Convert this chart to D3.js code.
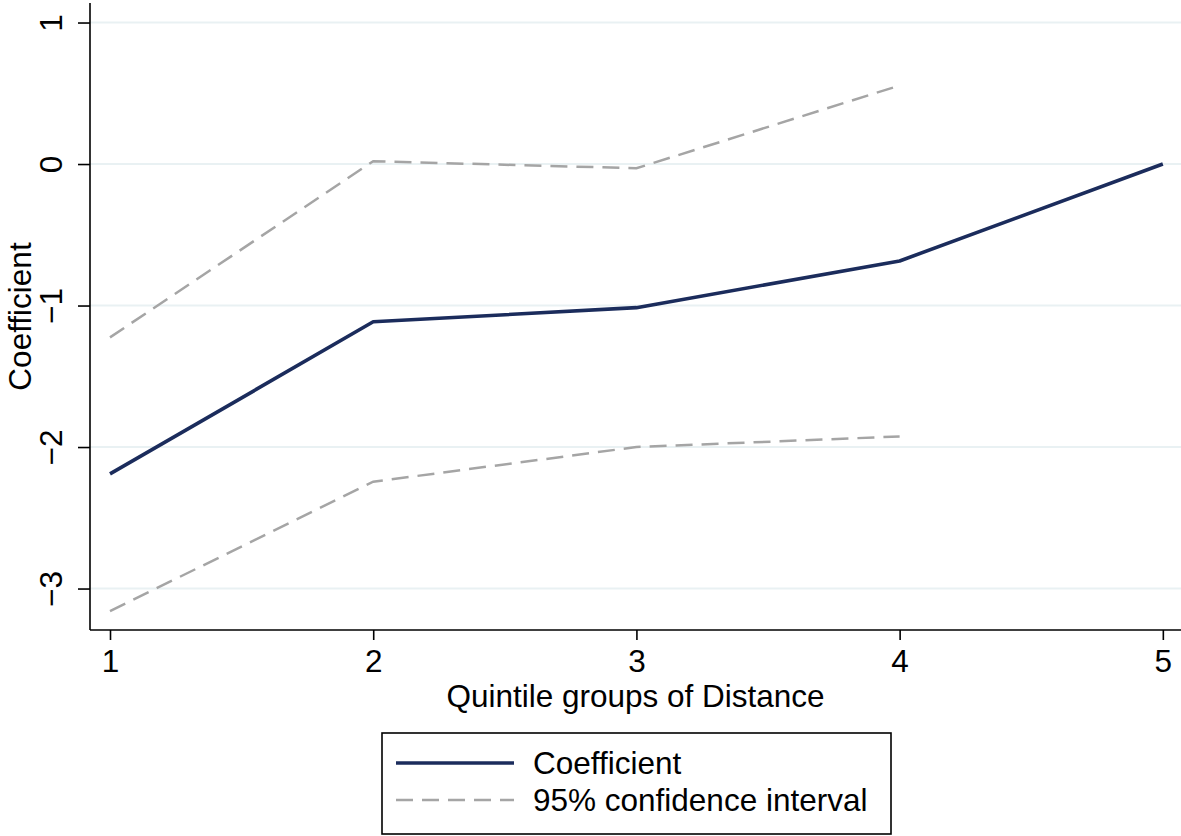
<!DOCTYPE html>
<html>
<head>
<meta charset="utf-8">
<script src="https://cdn.jsdelivr.net/npm/d3@7"></script>
<style>
  html, body { margin: 0; padding: 0; background: #fff; }
  svg { display: block; }
  text { font-family: "Liberation Sans", Arial, sans-serif; fill: #000; }
</style>
</head>
<body>
<svg id="chart" width="1181" height="836"></svg>
<script>
// ---- data ----
const quintiles = [1, 2, 3, 4, 5];
const coefficient = [-2.19, -1.115, -1.015, -0.685, 0];
const ciUpper = [-1.225, 0.02, -0.03, 0.555];
const ciLower = [-3.16, -2.245, -2.0, -1.925];
const xTicks = [1, 2, 3, 4, 5];
const yTicks = [1, 0, -1, -2, -3];
const xTitle = "Quintile groups of Distance";
const yTitle = "Coefficient";
const legendLabels = ["Coefficient", "95% confidence interval"];

// ---- layout ----
const svg = d3.select("#chart");
const plotLeft = 90, plotRight = 1181, plotTop = 3, plotBottom = 630;
const fontSize = 31.5;
const navy = "#1b2c5c";
const gray = "#a5a5a5";
const gridColor = "#e9f1f3";

const x = d3.scaleLinear().domain([0.924, 5.069]).range([plotLeft, plotRight]);
const y = d3.scaleLinear().domain([-3.293, 1.138]).range([plotBottom, plotTop]);

// gridlines
svg.append("g").selectAll("line").data(yTicks).join("line")
  .attr("x1", plotLeft).attr("x2", plotRight)
  .attr("y1", d => y(d)).attr("y2", d => y(d))
  .attr("stroke", gridColor).attr("stroke-width", 2);

// lines
const lineGen = d3.line().x(d => x(d[0])).y(d => y(d[1]));
const pairs = (vals) => vals.map((v, i) => [quintiles[i], v]);

svg.append("path").datum(pairs(ciUpper)).attr("d", lineGen)
  .attr("fill", "none").attr("stroke", gray).attr("stroke-width", 2.5)
  .attr("stroke-dasharray", "17,9");
svg.append("path").datum(pairs(ciLower)).attr("d", lineGen)
  .attr("fill", "none").attr("stroke", gray).attr("stroke-width", 2.5)
  .attr("stroke-dasharray", "17,9");
svg.append("path").datum(pairs(coefficient)).attr("d", lineGen)
  .attr("fill", "none").attr("stroke", navy).attr("stroke-width", 3.6)
  .attr("stroke-linejoin", "round");

// x axis
const xAxis = svg.append("g").attr("transform", `translate(0,${plotBottom})`)
  .call(d3.axisBottom(x).tickValues(xTicks).tickFormat(d3.format("d")).tickSize(10).tickPadding(6));
xAxis.select(".domain").attr("stroke", "#000").attr("stroke-width", 1.6)
  .attr("d", `M${plotLeft},0H${plotRight}`);
xAxis.selectAll(".tick line").attr("stroke", "#000").attr("stroke-width", 1.6);
xAxis.selectAll(".tick text").attr("font-size", fontSize)
  .attr("font-family", "Liberation Sans, Arial, sans-serif")
  .attr("dy", null).attr("y", 42);

// y axis
const yAxis = svg.append("g").attr("transform", `translate(${plotLeft},0)`)
  .call(d3.axisLeft(y).tickValues(yTicks).tickFormat(d => d < 0 ? "\u2212" + Math.abs(d) : d).tickSize(12));
yAxis.select(".domain").attr("stroke", "#000").attr("stroke-width", 1.6)
  .attr("d", `M0,${plotTop}V${plotBottom}`);
yAxis.selectAll(".tick line").attr("stroke", "#000").attr("stroke-width", 1.6);
yAxis.selectAll(".tick text").attr("font-size", fontSize)
  .attr("font-family", "Liberation Sans, Arial, sans-serif")
  .attr("x", null).attr("dy", null)
  .attr("text-anchor", "middle")
  .attr("transform", "translate(-28,0) rotate(-90)");

// axis titles
svg.append("text").attr("x", (plotLeft + plotRight) / 2).attr("y", 707)
  .attr("text-anchor", "middle").attr("font-size", fontSize).text(xTitle);
svg.append("text").attr("transform", `translate(31,${(plotTop + plotBottom) / 2}) rotate(-90)`)
  .attr("text-anchor", "middle").attr("font-size", fontSize).text(yTitle);

// legend
const lg = svg.append("g");
lg.append("rect").attr("x", 382).attr("y", 733).attr("width", 509).attr("height", 101)
  .attr("fill", "#fff").attr("stroke", "#000").attr("stroke-width", 1.6);
const legendStyles = [
  { color: navy, width: 3.6, dash: null },
  { color: gray, width: 2.5, dash: "17,9" }
];
legendLabels.forEach((lab, i) => {
  const cy = 763 + i * 37;
  lg.append("line").attr("x1", 396).attr("x2", 514).attr("y1", cy).attr("y2", cy)
    .attr("stroke", legendStyles[i].color).attr("stroke-width", legendStyles[i].width)
    .attr("stroke-dasharray", legendStyles[i].dash);
  lg.append("text").attr("x", 533).attr("y", cy + 11).attr("font-size", fontSize).text(lab);
});
</script>
</body>
</html>
